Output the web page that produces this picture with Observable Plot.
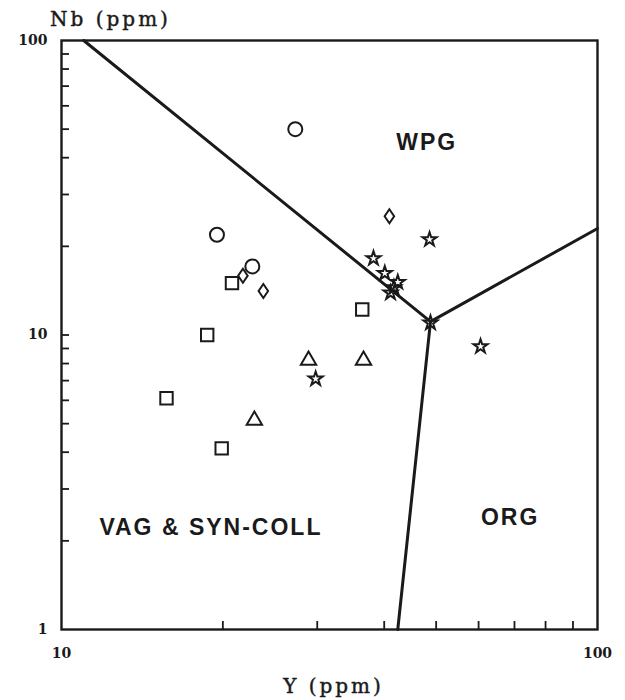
<!DOCTYPE html>
<html><head><meta charset="utf-8">
<script src="https://cdn.jsdelivr.net/npm/d3@7"></script>
<script src="https://cdn.jsdelivr.net/npm/@observablehq/plot@0.6"></script>
<style>body{margin:0;background:#fff}</style>
</head><body><div id="chart"></div>
<script>
// Sample groups (Y ppm, Nb ppm)
const circleY = [27.3, 19.5, 22.7];
const circleNb = [50, 21.9, 17.1];
const diamondY = [21.8, 23.8, 40.9];
const diamondNb = [15.9, 14.1, 25.3];
const squareY = [20.8, 18.7, 36.4, 15.7, 19.9];
const squareNb = [15.0, 10.0, 12.2, 6.1, 4.12];
const triangleY = [28.9, 36.6, 22.9];
const triangleNb = [8.2, 8.2, 5.13];
const starY = [48.6, 38.2, 40.1, 42.4, 41.7, 41.1, 48.8, 29.8, 60.5];
const starNb = [21.1, 18.2, 16.2, 15.1, 14.5, 13.9, 11.0, 7.1, 9.14];

// Discrimination boundaries (Y, Nb)
const wpgBoundaryY = [11, 48.8];
const wpgBoundaryNb = [100, 11.1];
const orgBoundaryY = [42.4, 48.8, 100];
const orgBoundaryNb = [1, 11.1, 23];

// Field names
const fieldNames = ["WPG", "ORG", "VAG & SYN-COLL"];
const fieldY = [48, 68.7, 19.0];
const fieldNb = [45, 2.4, 2.22];

// Ticks
const xTickLabels = [10, 100];
const yTickLabels = [1, 10, 100];
const xMinorTicks = [20, 30, 40, 50, 60, 70, 80, 90];
const yMinorTicks = [2, 3, 4, 5, 6, 7, 8, 9, 10, 20, 30, 40, 50, 60, 70, 80, 90];

const pts = (xs, ys) => xs.map((x, i) => ({x, y: ys[i]}));
const ink = "#1a1a1a";

const narrowDiamond = {
  draw(ctx, size) {
    const r = Math.sqrt(size / Math.PI);
    const w = r * 0.68;
    ctx.moveTo(0, -r); ctx.lineTo(w, 0); ctx.lineTo(0, r); ctx.lineTo(-w, 0); ctx.closePath();
  }
};

const dotOpts = {x: "x", y: "y", fill: "none", stroke: ink, strokeWidth: 2};
const serif = {fontFamily: "DejaVu Serif", fill: ink, stroke: ink, strokeWidth: 0.45};

const chart = Plot.plot({
  width: 625,
  height: 700,
  marginLeft: 61,
  marginRight: 28,
  marginTop: 40,
  marginBottom: 71,
  x: {type: "log", domain: [10, 100]},
  y: {type: "log", domain: [1, 100]},
  style: {background: "#fff", color: ink},
  marks: [
    Plot.axisY(yMinorTicks, {anchor: "left", tickSize: -8, tickFormat: () => "", label: null, strokeWidth: 1.8}),
    Plot.axisY(yTickLabels, {anchor: "left", tickSize: 0, tickPadding: 14, tickFormat: d3.format("d"), label: null,
      fontSize: 14, fontWeight: "bold", fontFamily: "DejaVu Serif"}),
    Plot.axisX(xMinorTicks, {anchor: "bottom", tickSize: -8, tickFormat: () => "", label: null, strokeWidth: 1.8}),
    Plot.axisX(xTickLabels, {anchor: "bottom", tickSize: 0, tickPadding: 19, tickFormat: d3.format("d"), label: null,
      fontSize: 14, fontWeight: "bold", fontFamily: "DejaVu Serif"}),
    Plot.frame({stroke: ink, strokeWidth: 2.4}),
    Plot.line(pts(wpgBoundaryY, wpgBoundaryNb), {x: "x", y: "y", stroke: ink, strokeWidth: 3}),
    Plot.line(pts(orgBoundaryY, orgBoundaryNb), {x: "x", y: "y", stroke: ink, strokeWidth: 3}),
    Plot.dot(pts(circleY, circleNb), {...dotOpts, symbol: "circle", r: 7}),
    Plot.dot(pts(diamondY, diamondNb), {...dotOpts, symbol: narrowDiamond, r: 7}),
    Plot.dot(pts(squareY, squareNb), {...dotOpts, symbol: "square", r: 7}),
    Plot.dot(pts(triangleY, triangleNb), {...dotOpts, symbol: "triangle", r: 5.7}),
    Plot.dot(pts(starY, starNb), {...dotOpts, symbol: "star", r: 4.4}),
    Plot.text(fieldNames.map((t, i) => ({t, x: fieldY[i], y: fieldNb[i]})), {
      x: "x", y: "y", text: "t", fontSize: 23, fontWeight: "bold", fontFamily: "Liberation Sans", fill: ink
    }),
    Plot.text(["Nb (ppm)"], {frameAnchor: "top-left", textAnchor: "middle", lineAnchor: "middle", dx: 49, dy: -21, fontSize: 20, ...serif}),
    Plot.text(["Y (ppm)"], {frameAnchor: "bottom", textAnchor: "middle", lineAnchor: "middle", dx: 4, dy: 57, fontSize: 20, ...serif})
  ]
});

chart.querySelectorAll("text").forEach(t => {
  const s = t.textContent;
  if (s === "Nb (ppm)" || s === "Y (ppm)") t.setAttribute("letter-spacing", "3");
  if (fieldNames.includes(s)) t.setAttribute("letter-spacing", "2");
});
document.getElementById("chart").appendChild(chart);
</script>
</body></html>
